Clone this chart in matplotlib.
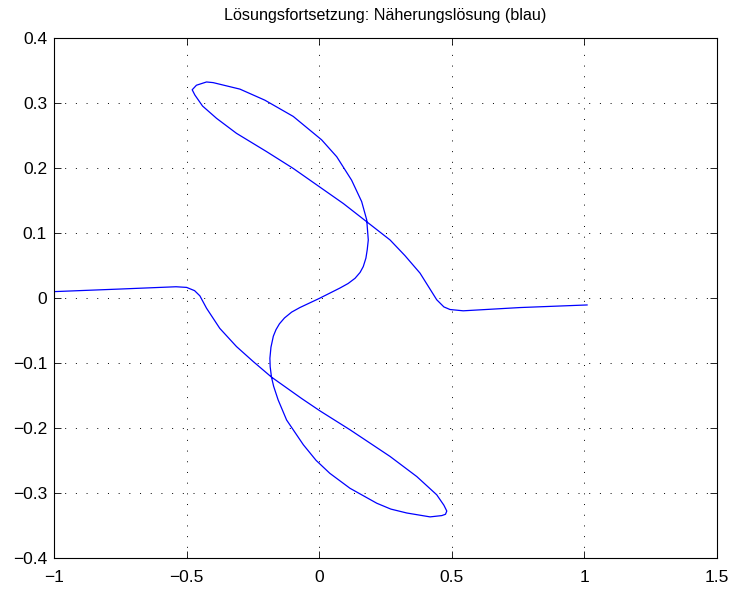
import matplotlib
matplotlib.use("Agg")
import matplotlib.pyplot as plt

plt.rcParams['font.family'] = ['Liberation Sans', 'DejaVu Sans']

title = "Lösungsfortsetzung: Näherungslösung (blau)"

x_vals = [-1.0, -0.75, -0.54, -0.50, -0.47, -0.45, -0.425, -0.375, -0.312, -0.249,
          -0.180, -0.066, 0.003, 0.116, 0.267, 0.368, 0.443, 0.470, 0.481, 0.476,
          0.462, 0.418, 0.330, 0.270, 0.217, 0.116, 0.040, -0.012, -0.060, -0.123, -0.155,
          -0.172, -0.180, -0.185, -0.186, -0.182, -0.173, -0.163, -0.150, -0.131, -0.104,
          -0.073, 0.0, 0.078, 0.109, 0.135, 0.154, 0.166, 0.176, 0.181, 0.185,
          0.179, 0.160, 0.122, 0.066, 0.009, -0.098, -0.205, -0.299, -0.400, -0.425,
          -0.463, -0.479, -0.469, -0.440, -0.387, -0.312, -0.199, -0.098, 0.0, 0.091,
          0.179, 0.267, 0.323, 0.380, 0.443, 0.470, 0.493, 0.543, 0.757, 1.01]
y_vals = [0.0105, 0.0145, 0.018, 0.017, 0.012, 0.004, -0.015, -0.046, -0.074, -0.097,
          -0.121, -0.154, -0.173, -0.202, -0.243, -0.274, -0.302, -0.318, -0.327, -0.332,
          -0.334, -0.336, -0.330, -0.324, -0.315, -0.292, -0.269, -0.249, -0.225, -0.187, -0.156,
          -0.135, -0.121, -0.105, -0.092, -0.075, -0.058, -0.048, -0.039, -0.030, -0.021,
          -0.014, 0.0, 0.016, 0.023, 0.031, 0.040, 0.049, 0.062, 0.075, 0.090,
          0.121, 0.149, 0.182, 0.218, 0.244, 0.280, 0.305, 0.322, 0.332, 0.333,
          0.328, 0.321, 0.313, 0.296, 0.277, 0.254, 0.226, 0.200, 0.172, 0.146,
          0.118, 0.090, 0.066, 0.039, -0.002, -0.013, -0.017, -0.019, -0.014, -0.010]

x_ticks = [-1, -0.5, 0, 0.5, 1, 1.5]
x_ticklabels = ["\u22121", "\u22120.5", "0", "0.5", "1", "1.5"]
y_ticks = [-0.4, -0.3, -0.2, -0.1, 0, 0.1, 0.2, 0.3, 0.4]
y_ticklabels = ["\u22120.4", "\u22120.3", "\u22120.2", "\u22120.1", "0", "0.1", "0.2", "0.3", "0.4"]

fig = plt.figure(figsize=(7.31, 5.91), dpi=100)
ax = fig.add_axes([0.0739, 0.055, 0.907, 0.880])
ax.plot(x_vals, y_vals, color=(0, 0, 1), linewidth=0.9)
ax.set_xlim(-1, 1.5)
ax.set_ylim(-0.4, 0.4)
ax.set_xticks(x_ticks)
ax.set_xticklabels(x_ticklabels)
ax.set_yticks(y_ticks)
ax.set_yticklabels(y_ticklabels)
ax.tick_params(direction='in', top=True, right=True, labelsize=12.5, length=5, width=0.6)
ax.tick_params(axis='x', pad=8)
ax.tick_params(axis='y', pad=5)
ax.grid(True, linestyle=(0, (1, 10)), color='black', linewidth=0.7)
for s in ax.spines.values():
    s.set_linewidth(0.8)
ax.set_title(title, fontsize=11.6, pad=13)
fig.savefig("out.png", dpi=100)
